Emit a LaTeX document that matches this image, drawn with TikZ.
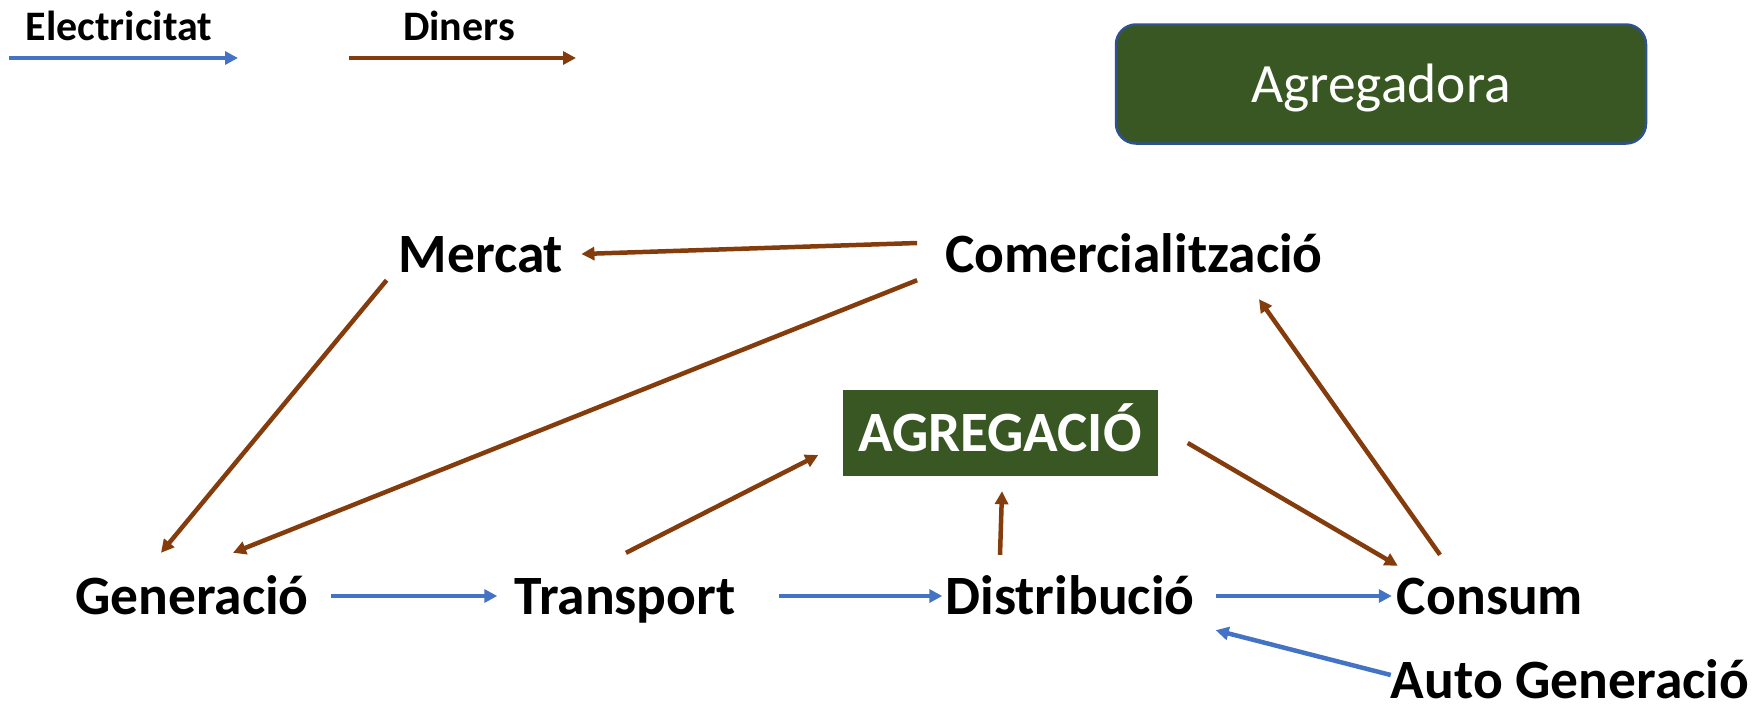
\documentclass[tikz,border=0pt]{standalone}
\usepackage{fontspec}
\setmainfont{Carlito}
\usetikzlibrary{arrows.meta}
\definecolor{elecblue}{HTML}{4472C4}
\definecolor{moneybrown}{HTML}{843C0C}
\definecolor{aggrgreen}{HTML}{385723}
\definecolor{aggrborder}{HTML}{2F528F}

\begin{document}
\begin{tikzpicture}[x=1pt, y=-1pt,
                    >={Triangle[length=13pt,width=13pt]},
                    main node/.style={font=\fontsize{55.5}{60}\selectfont\bfseries, inner sep=0pt, text height=36pt, text depth=0pt},
                    key node/.style={font=\fontsize{42}{48}\selectfont\bfseries, inner sep=0pt, text height=27pt, text depth=0pt},
                    elec/.style={->, elecblue, line width=4.5pt},
                    money/.style={->, moneybrown, line width=4.5pt}]

  \useasboundingbox (0,0) rectangle (1763,707);

  % legend
  \node[key node] (LE) at (119,27) {Electricitat};
  \node[key node] (LD) at (459,27) {Diners};
  \coordinate (e1) at (9,58);
  \coordinate (e2) at (238,58);
  \coordinate (d1) at (349,58);
  \coordinate (d2) at (576,58);
  \draw[elec] (e1) -- (e2);
  \draw[money] (d1) -- (d2);

  % boxes
  \node[draw=aggrborder, line width=2.5pt, fill=aggrgreen, rounded corners=20pt,
        minimum width=530pt, minimum height=119pt, text=white, text height=36pt, text depth=0pt,
        font=\fontsize{55.5}{60}\selectfont] (Agr) at (1381,84) {Agregadora};
  \node[fill=aggrgreen, minimum width=315pt, minimum height=86pt, text=white,
        text height=37pt, text depth=0pt,
        font=\fontsize{57}{60}\selectfont\bfseries] (AGR) at (1000,433) {AGREGACIÓ};

  % actors
  \node[main node] (Mer) at (481,254) {Mercat};
  \node[main node] (Com) at (1134,254) {Comercialització};
  \node[main node] (Gen) at (192,596) {Generació};
  \node[main node] (Tra) at (625,596) {Transport};
  \node[main node] (Dis) at (1070,596) {Distribució};
  \node[main node] (Con) at (1490,596) {Consum};
  \node[main node] (Aut) at (1570,680) {Auto Generació};

  % electricity
  \draw[elec] ([xshift=22pt]Gen.east) -- ([xshift=-17pt]Tra.west);
  \draw[elec] ([xshift=43pt]Tra.east) -- ([xshift=-3pt]Dis.west);
  \draw[elec] ([xshift=21pt]Dis.east) -- ([xshift=-5pt]Con.west);
  \draw[elec] ([shift={(0,-5)}]Aut.west) -- ([shift={(21,16)}]Dis.south east);

  % money
  \draw[money] ([shift={(-28,-11)}]Com.west) -- ([shift={(18,0)}]Mer.east);
  \draw[money] ([shift={(-12,8)}]Mer.south west) -- ([shift={(-31,-25)}]Gen.north);
  \draw[money] ([shift={(-28,8)}]Com.south west) -- ([shift={(41,-25)}]Gen.north);
  \draw[money] ([shift={(1,-25)}]Tra.north) -- ([shift={(-24,22)}]AGR.west);
  \draw[money] ([shift={(-70,-23)}]Dis.north) -- ([shift={(2,15)}]AGR.south);
  \draw[money] ([shift={(30,10)}]AGR.east) -- ([shift={(1,-12)}]Con.north west);
  \draw[money] ([shift={(-50,-23)}]Con.north) -- ([shift={(125,27)}]Com.south);
\end{tikzpicture}
\end{document}
